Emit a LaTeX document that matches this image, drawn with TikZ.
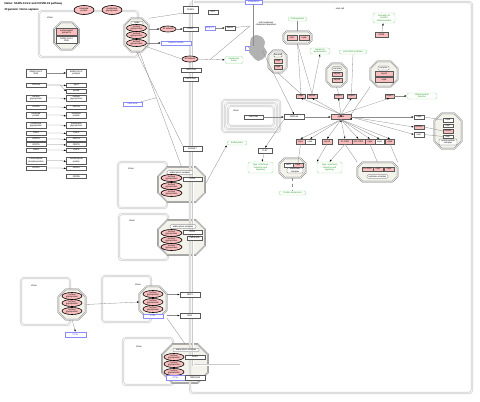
\documentclass[tikz,border=0pt]{standalone}
\usepackage{fontspec}
\setmainfont{Liberation Sans}
\usetikzlibrary{shapes.geometric,arrows.meta,positioning}
\definecolor{vpink}{RGB}{250,190,190}
\definecolor{cplxfill}{RGB}{244,243,235}
\definecolor{lblgreen}{RGB}{30,150,30}
\definecolor{lbledge}{RGB}{165,225,165}
\definecolor{metblue}{RGB}{50,50,235}
\definecolor{metedge}{RGB}{140,140,250}
\tikzset{
  gene/.style={ % host or viral gene product
    draw=black!65, fill=white, rectangle, line width=0.3pt,
    minimum width=#1, minimum height=4pt, inner sep=0pt, align=center
  },
  gene/.default=19pt,
  viral/.style={gene=#1, fill=vpink}, % viral protein
  viral/.default=10pt,
  metab/.style={gene=#1, draw=metedge, text=metblue}, % metabolite
  metab/.default=19pt,
  spike/.style={ % spike glycoprotein monomer
    ellipse, draw=black, line width=0.6pt, fill=vpink,
    minimum width=20pt, minimum height=7pt, inner sep=0pt, align=center
  },
  glabel/.style={ % process label
    draw=lbledge, text=lblgreen, fill=white, rounded corners=2pt,
    line width=0.4pt, minimum height=4pt, inner sep=0.6pt, align=center
  },
  cplxline/.style={ % complex outline
    draw=black!55, line width=0.45pt, double=white, double distance=0.55pt,
    fill=cplxfill
  },
  cname/.style={gene=#1, rounded corners=1pt, minimum height=3.5pt}, % complex name
  cname/.default=26pt,
  group/.style={draw=black!20, line width=0.7pt, double=white, double distance=0.7pt, rounded corners=3pt},
  link/.style={draw=black!45, line width=0.3pt},
  act/.style={link, -{Latex[length=2.2pt,width=1.6pt,color=black]}}
}
% octagonal complex: name, x, y, width, height
\newcommand{\complexat}[5]{%
  \node[rectangle, minimum width=#4pt, minimum height=#5pt, inner sep=0pt] (#1) at (#2,#3) {};
  \pgfmathsetmacro{\cch}{0.28*min(#4,#5)}
  \draw[cplxline] ([xshift=\cch pt]#1.north west) -- ([xshift=-\cch pt]#1.north east)
    -- ([yshift=-\cch pt]#1.north east) -- ([yshift=\cch pt]#1.south east)
    -- ([xshift=-\cch pt]#1.south east) -- ([xshift=\cch pt]#1.south west)
    -- ([yshift=\cch pt]#1.south west) -- ([yshift=-\cch pt]#1.north west) -- cycle;
}
\begin{document}
\begin{tikzpicture}[x=1pt, y=-1pt, font=\fontsize{2.2}{2.4}\selectfont]
  \useasboundingbox (0,0) rectangle (480,402);

  \node[anchor=west, font=\bfseries\fontsize{2.8}{3}\selectfont] (name) at (1,4) {Name: SARS-CoV-2 and COVID-19 pathway};
  \node[anchor=west, font=\bfseries\fontsize{2.8}{3}\selectfont] (org) at (1,9.5) {Organism: Homo sapiens};

  % groups
  \draw[group] (39,11) rectangle (138,57);
  \draw[group] (118,162) rectangle (167,208);
  \draw[group] (119,214) rectangle (168,260);
  \draw[group] (21,278) rectangle (70,325);
  \draw[group] (102,276) rectangle (151,322);
  \draw[group] (123,338) rectangle (173,385);
  \draw[group] (222,100) rectangle (280,132);
  \draw[group] (225,103) rectangle (277,129);
  \draw[group] (228,106) rectangle (274,126);
  \node (virA) at (50,18) {Virion};
  \node (virB) at (131,169) {Virion};
  \node (virC) at (132,221) {Virion};
  \node (virD) at (34,286) {Virion};
  \node (virE) at (138,285) {Virion};
  \node (virF) at (139,347) {Virion};
  \node (virG) at (236,111) {Virion};

  % complexes
  \complexat{rnp}{66.5}{36}{25}{27}
  \complexat{sA}{136.5}{35}{24}{33}
  \complexat{sB}{181.5}{184.5}{47}{35}
  \complexat{sC}{181.5}{237.5}{47}{35}
  \complexat{sD}{72}{304.5}{27}{30}
  \complexat{sE}{153}{302}{27}{31}
  \complexat{sF}{185}{363.5}{46}{39}
  \complexat{cA}{297.5}{37.5}{28}{12}
  \complexat{cB}{277.5}{61.5}{18}{22}
  \complexat{cC}{336.5}{75}{20}{23}
  \complexat{cD}{384}{74}{27}{25}
  \complexat{cE}{448}{131}{27}{35}
  \complexat{cF}{292.5}{168}{26}{19}
  \complexat{cG}{377.5}{172}{40}{19}

  % host cell
  \draw[group] (190,2) rectangle (472,393);
  \draw[group, rounded corners=0pt] (193,0) -- (193,365) -- (240,365);
  \node (host) at (340,9) {Host cell};

  % virion outside the cell
  \node[spike, minimum height=9pt] (env) at (84,10) {envelope\\protein};
  \node[spike, minimum height=9pt] (mem) at (112,10) {membrane\\glycoprotein};
  \node[viral=21pt, minimum height=7pt] (ncap) at (66.5,32) {nucleocapsid\\protein N};
  \node[gene=21pt, minimum height=7pt] (vrna) at (66.5,40) {SARS-CoV-2\\RNA};
  \node[cname=12pt] (sAn) at (137,23) {spike};
  \node[spike] (sA1) at (136.5,28) {surface\\glycoprotein};
  \node[spike] (sA2) at (136.5,35) {surface\\glycoprotein};
  \node[spike] (sA3) at (136.5,43) {surface\\glycoprotein};

  \node[spike, minimum width=16pt, minimum height=6pt] (s1) at (168,29) {S1 subunit};
  \node[gene=15pt] (ace) at (190.5,29) {ACE2};
  \node[gene=15pt, minimum height=7pt] (furin) at (190.5,9.5) {FURIN};
  \node[metab=30pt] (hep) at (176,43) {heparan sulfate};
  \node[spike, minimum width=16pt, minimum height=6pt] (s2) at (190,59) {S2 subunit};
  \node[gene=20pt] (tmp2) at (191,70) {TMPRSS2};
  \node[gene=15pt] (tmp4) at (190.5,79) {TMPRSS4};
  \node[gene=10pt] (agt) at (213,12) {AGT};
  \node[metab=10pt] (ang) at (210,28) {Ang 1-7};
  \node[gene=10pt] (mas) at (230,28) {MAS1};
  \node[metab=17pt] (chol) at (253.5,2) {cholesterol};
  \node[metab=17pt] (chq) at (253.5,48) {cholesterol};
  \node[align=center] (depl) at (266,24) {cell membrane\\cholesterol depletion};
  \fill[black!30] plot[smooth cycle] coordinates {(251,38) (256,35) (262,37) (265,42) (264,47) (267,52) (264,58) (258,61) (253,57) (249,52) (250,45)};
  \node[glabel, minimum width=18pt, minimum height=7pt] (fus) at (234,60) {Membrane\\fusion};
  \node[metab=19pt] (sia) at (132.5,104) {sialic acid};

  % viral genome and proteins
  \node[gene=20pt, minimum height=8pt] (l0) at (36,73) {SARS-CoV-2\\RNA};
  \node[gene=20pt, minimum height=8pt, right=20pt of l0] (r0) {SARS-CoV-2\\proteins};
  \node[gene=20pt] (l1) at (36,85) {ORF1ab};
  \node[gene=20pt, right=20pt of l1] (r1) {pp1a};
  \node[gene=20pt, below=2pt of r1] (r1b) {pp1ab};
  \node[gene=20pt, minimum height=6pt] (l2) at (36,98) {surface\\glycoprotein};
  \node[gene=20pt, minimum height=6pt, right=20pt of l2] (r2) {surface\\glycoprotein};
  \node[gene=20pt] (l3) at (36,107) {ORF3a};
  \node[gene=20pt, right=20pt of l3] (r3) {ORF3a};
  \node[gene=20pt, minimum height=6pt] (l4) at (36,115) {envelope\\protein};
  \node[gene=20pt, minimum height=6pt, right=20pt of l4] (r4) {envelope\\protein};
  \node[gene=20pt, minimum height=6pt] (l5) at (36,125) {membrane\\glycoprotein};
  \node[gene=20pt, minimum height=6pt, right=20pt of l5] (r5) {membrane\\glycoprotein};
  \node[gene=20pt] (l6) at (36,133) {ORF6};
  \node[gene=20pt, right=20pt of l6] (r6) {ORF6};
  \node[gene=20pt] (l7) at (36,139) {ORF7a};
  \node[gene=20pt, right=20pt of l7] (r7) {ORF7a};
  \node[gene=20pt] (l8) at (36,144.5) {ORF7b};
  \node[gene=20pt, right=20pt of l8] (r8) {ORF7b};
  \node[gene=20pt] (l9) at (36,150) {ORF8};
  \node[gene=20pt, right=20pt of l9] (r9) {ORF8};
  \node[gene=20pt, minimum height=7pt] (l10) at (36,160.5) {nucleocapsid\\phosphoprotein};
  \node[gene=20pt, minimum height=7pt, right=20pt of l10] (r10) {nucleocapsid\\protein};
  \node[gene=20pt] (l11) at (36,168) {ORF10};
  \node[gene=20pt, right=20pt of l11] (r11) {ORF10};
  \node[gene=20pt, below=4pt of r11] (r12) {ORF9b};

  % entry
  \node[cname] (sBn) at (180,172.5) {endocytosis complex};
  \node[spike, minimum width=21pt] (sB1) at (171.5,178) {surface\\glycoprotein};
  \node[spike, minimum width=21pt] (sB2) at (171.5,186) {surface\\glycoprotein};
  \node[spike, minimum width=21pt] (sB3) at (171.5,193) {surface\\glycoprotein};
  \node[gene] (sBace) at (192.5,179) {ACE2};
  \node[gene, minimum height=5pt] (adam) at (192.5,148.5) {ADAM17};
  \node[glabel, minimum width=20pt] (endo) at (237,143) {Endocytosis};
  \node[cname] (sCn) at (183,226.5) {endocytosis complex};
  \node[spike, minimum width=21pt] (sC1) at (171.5,233) {surface\\glycoprotein};
  \node[spike, minimum width=21pt] (sC2) at (171.5,240) {surface\\glycoprotein};
  \node[spike, minimum width=21pt] (sC3) at (171.5,247) {surface\\glycoprotein};
  \node[gene] (sCace) at (192.5,232) {ACE2};
  \node[gene=15pt] (sCtmp) at (194.5,238) {TMPRSS2};
  \node[spike] (sD1) at (72,296) {surface\\glycoprotein};
  \node[spike] (sD2) at (72,303) {surface\\glycoprotein};
  \node[spike] (sD3) at (72,311) {surface\\glycoprotein};
  \node[metab=21pt, minimum height=5pt] (ctslA) at (75.5,334.5) {CTSL};
  \node[spike] (sE1) at (153,294) {surface\\glycoprotein};
  \node[spike] (sE2) at (153,302) {surface\\glycoprotein};
  \node[spike] (sE3) at (153,309) {surface\\glycoprotein};
  \node[metab=20pt] (ctslB) at (153,316) {CTSL};
  \node[gene=20pt, minimum height=5pt] (nrp) at (190,294.5) {NRP1};
  \node[gene=20pt, minimum height=5pt] (bsg) at (190,315.5) {BSG};
  \node[cname] (sFn) at (186,350) {endocytosis complex};
  \node[spike] (sF1) at (174,357) {surface\\glycoprotein};
  \node[spike] (sF2) at (174,364) {surface\\glycoprotein};
  \node[spike] (sF3) at (174,372) {surface\\glycoprotein};
  \node[gene=20pt] (sFace) at (195,357) {ACE2};
  \node[metab=19pt, minimum height=5pt] (ctslC) at (175.5,377.5) {CTSL};
  \node[gene=20pt, minimum height=5pt] (sFtmp) at (195,377.5) {TMPRSS2};

  % replication and host interactions
  \node[gene] (grna) at (253.5,117) {viral RNA};
  \node[gene=20pt, minimum height=5pt] (orf) at (294,117) {ORF1ab};
  \node[viral=20pt, minimum height=5pt] (pp) at (341,117) {pp1ab};
  \node[gene=14pt, minimum height=5pt] (tlr) at (265,150.5) {TLR7};
  \node[glabel, minimum width=25pt, minimum height=11pt] (ifnA) at (260.5,167.5) {Type I interferon\\induction and\\signaling};

  \node[viral=9pt] (t1) at (301,96) {nsp1};
  \node[viral=10pt] (t2) at (312,96) {nsp16};
  \node[viral=9pt] (t3) at (338.5,96) {nsp14};
  \node[viral=9pt] (t4) at (351.5,96) {nsp15};
  \node[viral=9pt] (t5) at (389.5,96) {nsp13};
  \node[glabel, minimum width=30pt, minimum height=6pt] (mito) at (422,96) {Mitochondrial\\function};

  \node[viral=10pt, minimum height=5pt] (cA1) at (292,37.5) {nsp7};
  \node[viral=10pt, minimum height=5pt] (cA2) at (304,37.5) {nsp8};
  \node[glabel, minimum width=19pt] (path) at (297.5,19) {Pathogenesis};
  \node[cname=8pt, minimum height=4pt] (cBn) at (278,55) {complex};
  \node[viral=8pt] (cB1) at (278,61) {nsp9};
  \node[viral=8pt] (cB2) at (278,67) {nsp9};
  \node[glabel, minimum width=20pt, minimum height=6pt] (ubq) at (320,51) {Impact on\\ubiquitination};
  \node[glabel, minimum width=28pt] (hrna) at (353,52) {Host RNA synthesis};
  \node[cname=10pt] (cCn) at (337,68.5) {complex};
  \node[viral=10pt] (cC1) at (337,74) {nsp10};
  \node[viral=10pt] (cC2) at (337,80) {nsp16};
  \node[cname=11pt, minimum height=4pt] (cDn) at (383.5,68) {complex};
  \node[viral=18pt, minimum height=5pt] (cD1) at (384,73.5) {nsp12};
  \node[viral=18pt, minimum height=5pt] (cD2) at (384,80) {nsp8};
  \node[glabel, minimum width=22pt, minimum height=10pt] (nlrp) at (384,18) {Activation of\\NLRP3\\inflammasome};
  \node[viral=13pt, minimum height=5pt] (orf8) at (381.5,34.5) {ORF8};

  \node[gene=10pt] (w1) at (419,117) {nsp6};
  \node[viral=10pt] (w2) at (419,127) {ORF9c};
  \node[gene=10pt, minimum height=5pt] (w3) at (419,134.5) {nsp7};
  \node[gene=10pt] (cE1) at (448,120) {nsp6};
  \node[gene=10pt, minimum height=3.5pt] (cE2) at (448,125.5) {nsp7};
  \node[viral=10pt] (cE3) at (448,131) {ORF9c};
  \node[gene=10pt, minimum height=3.5pt] (cE4) at (448,136.5) {nsp7};
  \node[cname=18pt, minimum height=6pt] (cEn) at (448,142) {mitochondrial\\complex};

  \node[viral=9pt, minimum height=5pt] (b1) at (300.5,141.5) {nsp2};
  \node[gene=10pt, minimum height=5pt] (b2) at (310,141.5) {nsp4};
  \node[viral=10pt, minimum height=5pt] (b3) at (327,141.5) {nsp13};
  \node[viral=14pt, minimum height=5pt] (b4) at (345,141.5) {PL-PRO};
  \node[viral=13pt, minimum height=5pt] (b5) at (358.5,141.5) {3CL-PRO};
  \node[viral=10pt, minimum height=5pt] (b6) at (370,141.5) {nsp5};
  \node[gene=9pt, minimum height=5pt] (b7) at (379.5,141.5) {nsp8};
  \node[viral=9pt, minimum height=5pt] (b8) at (390,141.5) {nsp9};
  \node[gene=9pt] (cF1) at (288.5,165) {eIF4};
  \node[viral=10pt] (cF2) at (298,165) {nsp2};
  \node[cname=16pt, minimum height=5pt] (cFn) at (295,170.5) {nsp2 host\\complex};
  \node[glabel, minimum width=27pt] (prot) at (292.5,193) {Protein expression};
  \node[glabel, minimum width=25pt, minimum height=11pt] (ifnB) at (329.5,167.5) {Type I interferon\\induction and\\signaling};
  \node[viral=11pt] (cG1) at (367.5,169) {PL-PRO};
  \node[viral=10pt] (cG2) at (378,169) {nsp3};
  \node[viral=10pt] (cG3) at (389,169) {nsp4};
  \node[cname=21pt] (cGn) at (377.5,176.5) {replicase complex};

  % genome to proteins
  \draw[act] (l0.east) -- (r0.west);
  \draw[act] (l1.east) -- ++(14,0) -- ([yshift=-0.5pt]r1.west);
  \draw[act] (l1.east) -- ++(14,0) -- (r1b.west);
  \draw[act] (l2.east) -- ++(14,0) -- ([yshift=-1pt]r2.west);
  \draw[act] (l3.east) -- ++(14,0) -- ([yshift=-0.5pt]r3.west);
  \draw[act] (l4.east) -- ++(14,0) -- ([yshift=-1pt]r4.west);
  \draw[act] (l5.east) -- ++(14,0) -- ([yshift=-1pt]r5.west);
  \draw[act] (l6.east) -- ++(14,0) -- ([yshift=-0.5pt]r6.west);
  \draw[act] (l7.east) -- ++(14,0) -- ([yshift=-0.5pt]r7.west);
  \draw[act] (l8.east) -- ++(14,0) -- ([yshift=-0.5pt]r8.west);
  \draw[act] (l9.east) -- ++(14,0) -- ([yshift=-0.5pt]r9.west);
  \draw[act] (l10.east) -- ++(14,0) -- ([yshift=-1pt]r10.west);
  \draw[act] (l11.east) -- ++(14,0) -- ([yshift=-0.5pt]r11.west);

  % spike processing and fusion
  \draw[act] (sA.east |- s1) -- (s1);
  \draw[act] (s1) -- (ace);
  \draw[link] (sA.north east) -- (furin.south west);
  \draw[act] (sA3.east) -- (hep);
  \draw[link] (sA3.south east) -- (s2.west);
  \draw[act] (s2) -- coordinate[pos=0.45] (fusj) (fus);
  \coordinate (cholj) at (250,26);
  \draw[link] (chol) -- (chq);
  \draw[link] (fusj) -- (cholj);
  \draw[link] (mas) -- (cholj);
  \draw[act] (ang) -- (mas);
  \draw[link] (sA.south) -- (adam.north west);
  \draw[link] ([xshift=3pt]sA.south) -- coordinate[pos=0.4] (siaj) (sB.north);
  \draw[link] (sia) -- (siaj);

  % entry routes
  \draw[act] (sB.east) -- (endo.south west);
  \draw[act] (sD.east) -- (sE.west);
  \draw[act] (sD.south) -- (ctslA.north);
  \draw[act] (sE.east |- nrp) -- (nrp);
  \draw[act] (sE.east |- bsg) -- (bsg);
  \draw[link] (sE.south east) -- (sF.north);

  % replication
  \draw[act] (grna) -- (orf);
  \draw[act] (orf) -- (pp);
  \draw[act] (chq.south east) -- (orf.north);
  \draw[act] (orf.south west) -- (tlr.north);
  \draw[act] (tlr) -- (ifnA);
  \path[act] (pp.north) edge (t1.south) edge (t2.south) edge (t3.south) edge (t4.south) edge (t5.south);
  \path[act] (pp.east) edge (w1.west) edge (w2.west) edge (w3.west);
  \path[act] (pp.south) edge (b1.north) edge (b2.north) edge (b3.north) edge (b4.north)
    edge (b5.north) edge (b6.north) edge (b7.north) edge (b8.north);
  \draw[link] (cA.south) -- (t1.north);
  \draw[link] (cA.south) -- (t2.north);
  \draw[link] (cA.north) -- (path.south);
  \draw[link] (cB.south) -- (t1.north);
  \draw[act] (t2.north) -- (ubq.south);
  \draw[link] (cC.south) -- (t3.north);
  \draw[link] (t4.north) -- (hrna.south);
  \draw[link] (cD.south west) -- (pp.north east);
  \draw[act] (orf8) -- (nlrp);
  \draw[act] (t5) -- (mito);
  \draw[link] (w1.east) -- (cE1.west);
  \draw[link] (w2.east) -- (cE3.west);
  \draw[link] (w3.east) -- (cE4.west);
  \draw[link] (b1.south) -- (cF2.north);
  \draw[link, dashed] (cF.south) -- (prot.north);
  \draw[act] (b3.south) -- (ifnB.north west);
  \draw[act] (b4.south) -- (ifnB.north);
  \draw[link] (b4.south) -- (cG.north west);
  \draw[link] (b6.south) -- (cG.north);
  \draw[link] (b8.south) -- (cG.north east);
\end{tikzpicture}
\end{document}
